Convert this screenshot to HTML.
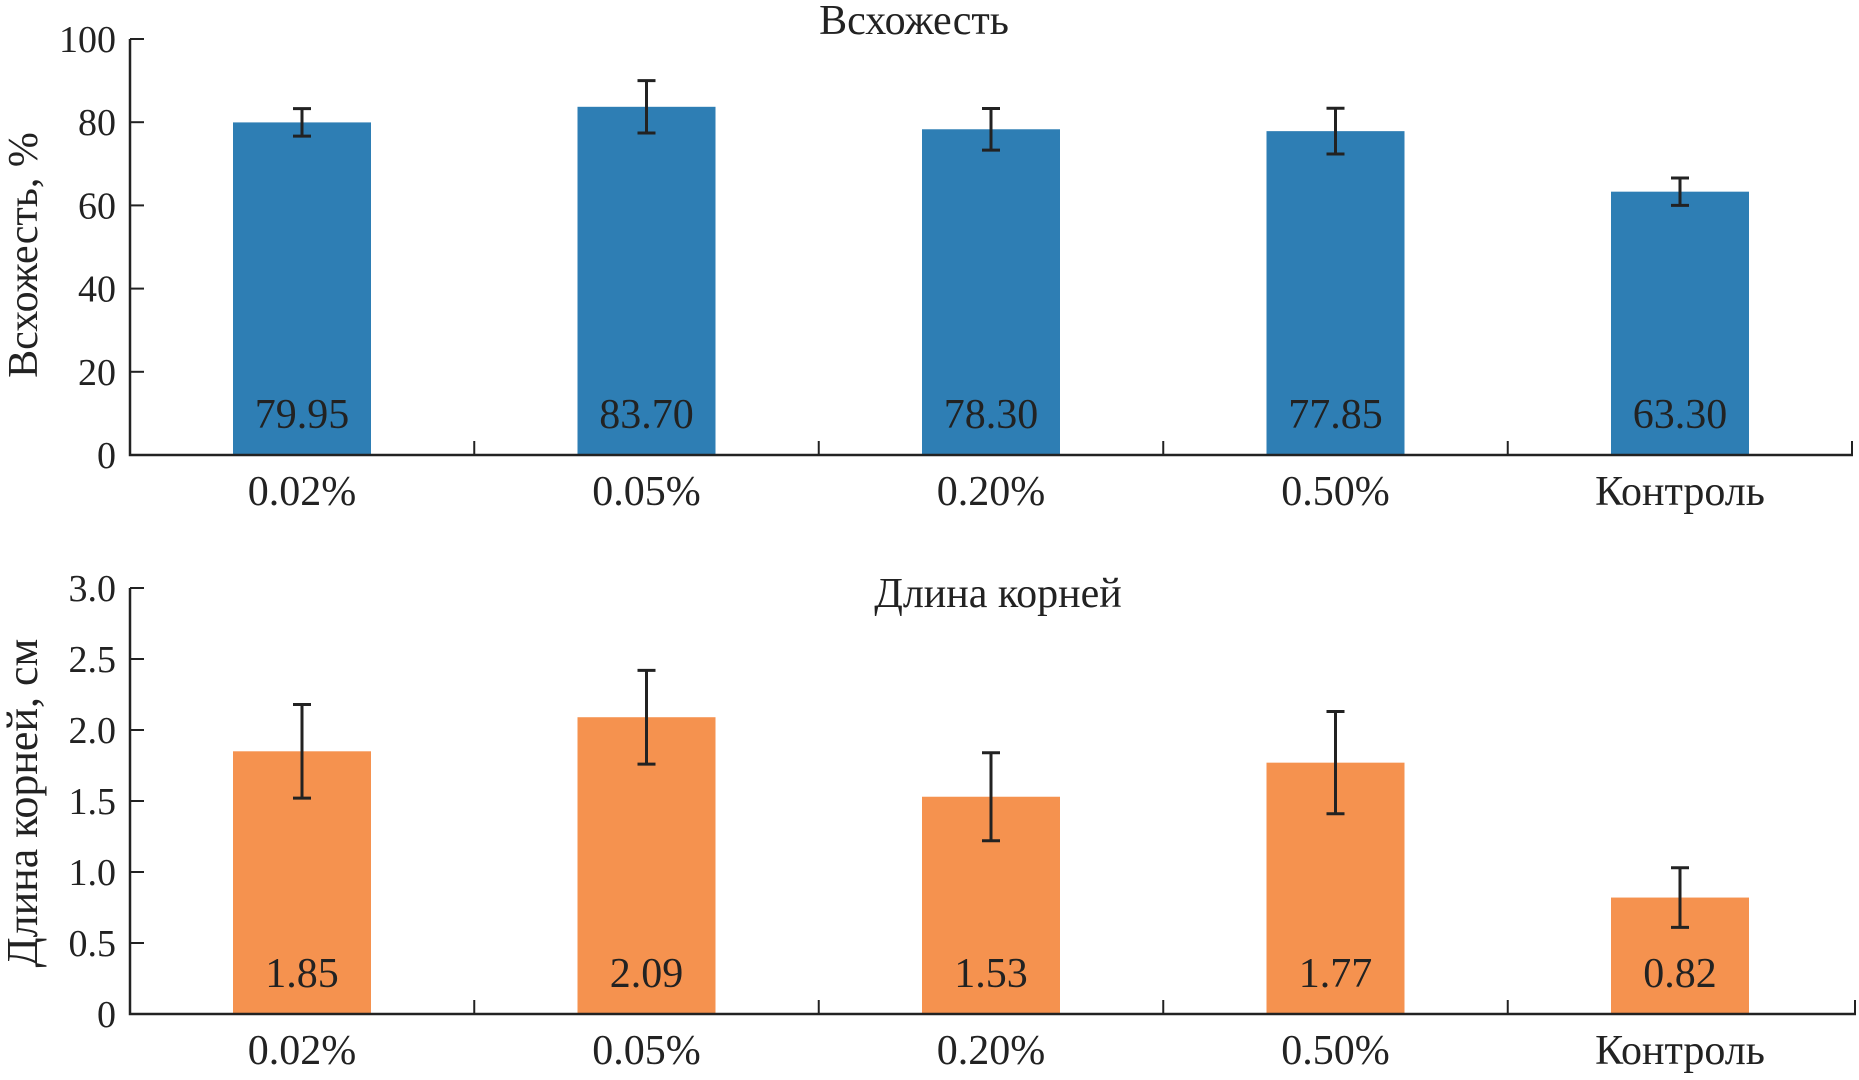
<!DOCTYPE html>
<html><head><meta charset="utf-8"><style>
html,body{margin:0;padding:0;background:#fff;}
svg{display:block;font-family:"Liberation Serif",serif;}
</style></head><body>
<svg id="chart" width="1859" height="1080" viewBox="0 0 1859 1080"></svg>
<script>
const categories = ["0.02%","0.05%","0.20%","0.50%","Контроль"];
const germValues = [79.95,83.70,78.30,77.85,63.30];
const germErrors = [3.3,6.3,5.0,5.5,3.3];
const germTicks = [0,20,40,60,80,100];
const rootValues = [1.85,2.09,1.53,1.77,0.82];
const rootErrors = [0.33,0.33,0.31,0.36,0.21];
const rootTicks = ["0","0.5","1.0","1.5","2.0","2.5","3.0"];

const NS="http://www.w3.org/2000/svg";
const svg=document.getElementById('chart');
function el(tag,attrs,parent){const e=document.createElementNS(NS,tag);for(const k in attrs)e.setAttribute(k,attrs[k]);(parent||svg).appendChild(e);return e;}

function panel(cfg){
  const g=el('g',{});
  
  
  const x0=130,x1=cfg.xEnd,catW=344.5,firstC=302,barW=138;
  const y=v=>cfg.yBase-(v-cfg.min)/(cfg.max-cfg.min)*(cfg.yBase-cfg.yTop);
  const cx=i=>firstC+i*catW;
  const t=el('text',{x:cfg.titleX,y:cfg.titleY,'font-size':42,'text-anchor':'middle',fill:'#222'},g);
  t.textContent=cfg.title;
  
  
  const yt=el('text',{x:0,y:0,'font-size':cfg.yTitleSize,'text-anchor':'middle',fill:'#222',transform:`translate(37,${cfg.yTitleY}) rotate(-90)`},g);
  yt.textContent=cfg.yTitle;
  
  
  cfg.values.forEach((v,i)=>{
    const r=el('rect',{x:cx(i)-barW/2,y:y(v),width:barW,height:y(cfg.min)-y(v),fill:cfg.color},g);
    
    
    const hi=y(v+cfg.errors[i]),lo=y(v-cfg.errors[i]);
    const eb=el('path',{d:`M${cx(i)} ${hi}V${lo}M${cx(i)-9} ${hi}H${cx(i)+9}M${cx(i)-9} ${lo}H${cx(i)+9}`,stroke:'#222','stroke-width':3,fill:'none'},g);
    
    
    const lab=el('text',{x:cx(i),y:cfg.yBase-27,'font-size':42,'text-anchor':'middle',fill:'#222'},g);
    lab.textContent=cfg.labels[i];
    
    
    const xl=el('text',{x:cx(i),y:cfg.yBase+50,'font-size':42,'text-anchor':'middle',fill:'#222'},g);
    xl.textContent=categories[i];
    
    
  });
  const ax=el('path',{d:`M${x0} ${cfg.yTop}V${cfg.yBase}H${x1}`,stroke:'#222','stroke-width':2.5,fill:'none'},g);
  
  
  for(let i=1;i<categories.length;i++){
    const xx=firstC+(i-0.5)*catW;
    const tk=el('line',{x1:xx,x2:xx,y1:cfg.yBase,y2:cfg.yBase-14,stroke:'#222','stroke-width':2},g);
    
    
  }
  const xx=x1-1;
  el('line',{x1:xx,x2:xx,y1:cfg.yBase,y2:cfg.yBase-14,stroke:'#222','stroke-width':2},g);
  cfg.ticks.forEach(tv=>{
    const v=parseFloat(tv);
    const tk=el('line',{x1:x0,x2:x0+14,y1:y(v),y2:y(v),stroke:'#222','stroke-width':2},g);
    
    
    const tl=el('text',{x:x0-14,y:y(v)+13,'font-size':38,'text-anchor':'end',fill:'#222'},g);
    tl.textContent=tv;
    
    
  });
}
panel({name:'germination-panel',title:'Всхожесть',titleX:914,titleY:34,yTitle:'Всхожесть, %',yTitleY:255,yTitleSize:42,
  values:germValues,errors:germErrors,labels:germValues.map(v=>v.toFixed(2)),ticks:germTicks.map(String),
  min:0,max:100,yTop:39,yBase:455,xEnd:1853,color:'#2e7eb4'});
panel({name:'root-length-panel',title:'Длина корней',titleX:998,titleY:607,yTitle:'Длина корней, см',yTitleY:803,yTitleSize:44,
  values:rootValues,errors:rootErrors,labels:rootValues.map(v=>v.toFixed(2)),ticks:rootTicks,
  min:0,max:3,yTop:588,yBase:1014,xEnd:1856,color:'#f5924f'});
</script>
</body></html>
